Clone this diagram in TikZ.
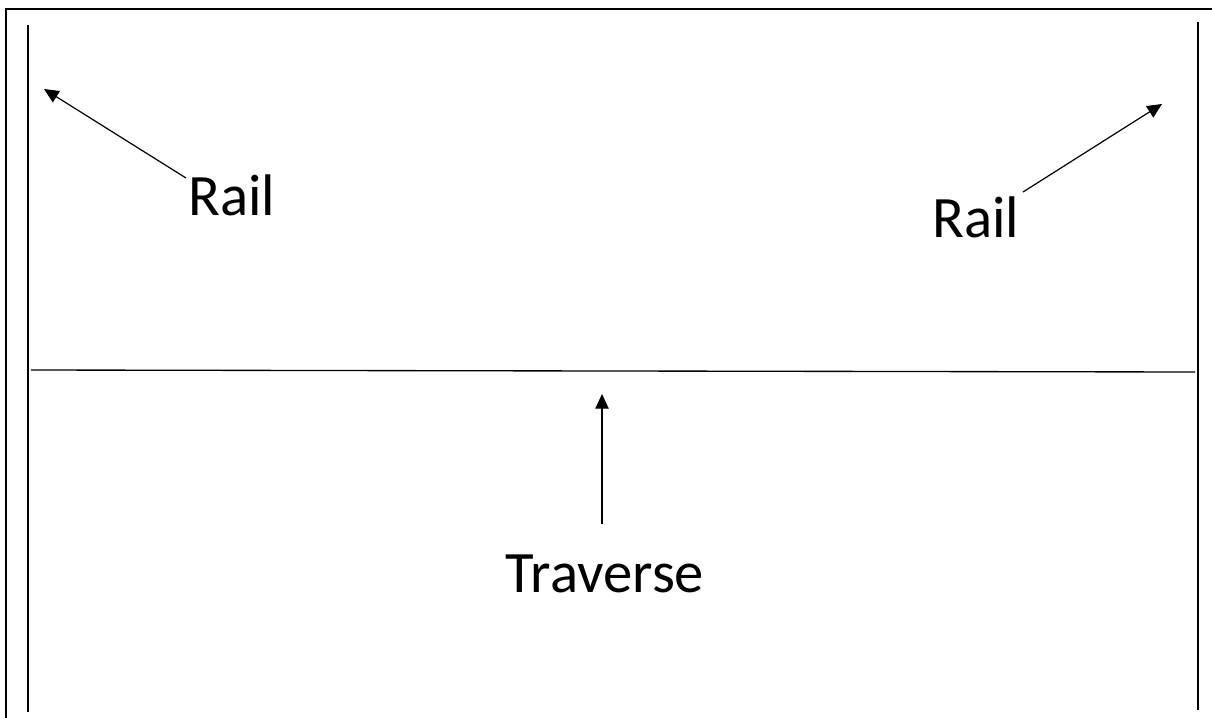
\documentclass[tikz,border=0pt]{standalone}
\usepackage{fontspec}
\setmainfont{Carlito}
\usetikzlibrary{arrows.meta}
\begin{document}
\begin{tikzpicture}[x=0.75pt,y=-0.75pt,
  frameline/.style={line width=1.9pt,line cap=rect},
  railline/.style={line width=1pt},
  pointer/.style={line width=0.9pt,-{Triangle[length=11pt,width=10pt]}},
  lbl/.style={font=\fontsize{44}{52}\selectfont,inner sep=0pt,anchor=base west}]
\useasboundingbox (0,0) rectangle (1212,717);
% outer frame (top and left)
\draw[frameline] (6,717) -- (6,9) -- (1214,9);
% rails
\coordinate (lr1) at (28,25);
\coordinate (lr2) at (28,712);
\coordinate (rr1) at (1198,22);
\coordinate (rr2) at (1198,710);
\draw[railline] (lr1) -- (lr2);
\draw[railline] (rr1) -- (rr2);
% traverse
\coordinate (tv1) at (31,370);
\coordinate (tv2) at (1195,372);
\draw[railline] (tv1) -- (tv2);
% labels
\node[lbl] (railL) at (188,215) {Rail};
\node[lbl] (railR) at (932,237) {Rail};
\node[lbl,anchor=base] (trav) at (605,592) {Traverse};
% arrows
\coordinate (aLtail) at (186,178);
\coordinate (aLtip) at (44,89);
\coordinate (aRtail) at (1023,192);
\coordinate (aRtip) at (1162,104);
\coordinate (aTtail) at (602,524);
\coordinate (aTtip) at (602,394);
\draw[pointer] (aLtail) -- (aLtip);
\draw[pointer] (aRtail) -- (aRtip);
\draw[pointer] (aTtail) -- (aTtip);
\end{tikzpicture}
\end{document}
